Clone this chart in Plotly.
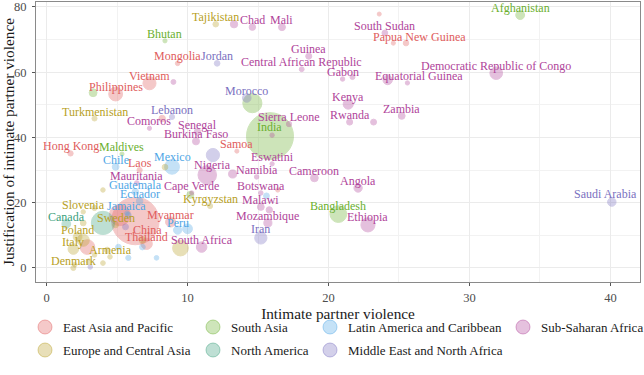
import math
import plotly.graph_objects as go

# ---------------- data ----------------
region_names = [
    "East Asia and Pacific", "South Asia", "Latin America and Caribbean",
    "Sub-Saharan Africa", "Europe and Central Asia", "North America",
    "Middle East and North Africa",
]
region_colors = {
    "East Asia and Pacific": "#e05c5c",
    "South Asia": "#6aaf2e",
    "Latin America and Caribbean": "#4ea6e6",
    "Sub-Saharan Africa": "#b0449a",
    "Europe and Central Asia": "#b89f26",
    "North America": "#3b9f7d",
    "Middle East and North Africa": "#7a70c0",
}
EAP, SA, LAC, SSA, ECA, NA, MENA = region_names[0], region_names[1], region_names[2], region_names[3], region_names[4], region_names[5], region_names[6]

countries = [
    "Tajikistan", "Bhutan", "Mongolia", "Jordan", "Vietnam", "Philippines", "Turkmenistan",
    "Lebanon", "Comoros", "Senegal", "Burkina Faso", "Hong Kong", "Maldives", "Chile",
    "Laos", "Mexico", "Nigeria", "Mauritania", "Guatemala", "Ecuador", "Cape Verde",
    "Kyrgyzstan", "Slovenia", "Jamaica", "Canada", "Sweden", "Myanmar", "China", "Peru",
    "Thailand", "South Africa", "Poland", "Italy", "Armenia", "Denmark", "Chad", "Mali",
    "South Sudan", "Papua New Guinea", "Guinea", "Central African Republic", "Gabon",
    "Equatorial Guinea", "Democratic Republic of Congo", "Afghanistan", "Zambia", "Kenya",
    "Rwanda", "Morocco", "Sierra Leone", "India", "Samoa", "Eswatini", "Namibia",
    "Cameroon", "Angola", "Botswana", "Malawi", "Mozambique", "Iran", "Bangladesh",
    "Ethiopia", "Saudi Arabia",
    # unlabeled
    "Indonesia", "Japan", "Cambodia", "Solomon Islands", "Kiribati", "Timor-Leste",
    "Nepal", "Pakistan", "Sri Lanka", "Colombia", "Haiti", "Dominican Republic",
    "Honduras", "Paraguay", "Uruguay", "Bolivia", "United States", "Egypt", "Tunisia",
    "Algeria", "Russia", "Germany", "Moldova", "Azerbaijan", "Georgia", "Albania",
    "Serbia", "Czechia", "Romania", "Portugal", "Bosnia and Herzegovina", "Switzerland",
    "Uganda", "Congo", "Liberia", "Niger", "Burundi", "Ghana", "Zimbabwe", "Lesotho",
]
regions = [
    ECA, SA, EAP, MENA, EAP, EAP, ECA,
    MENA, SSA, SSA, SSA, EAP, SA, LAC,
    EAP, LAC, SSA, SSA, LAC, LAC, SSA,
    ECA, ECA, LAC, NA, ECA, EAP, EAP, LAC,
    EAP, SSA, ECA, ECA, ECA, ECA, SSA, SSA,
    SSA, EAP, SSA, SSA, SSA,
    SSA, SSA, SA, SSA, SSA,
    SSA, MENA, SSA, SA, EAP, SSA, SSA,
    SSA, SSA, SSA, SSA, SSA, MENA, SA,
    SSA, MENA,
    EAP, EAP, EAP, EAP, EAP, EAP,
    SA, SA, SA, LAC, LAC, LAC,
    LAC, LAC, LAC, LAC, NA, MENA, MENA,
    MENA, ECA, ECA, ECA, ECA, ECA, ECA,
    ECA, ECA, ECA, ECA, ECA, ECA,
    SSA, SSA, SSA, SSA, SSA, SSA, SSA, SSA,
]
ipv = [
    12.0, 8.4, 9.3, 12.1, 7.3, 4.9, 3.4,
    8.9, 7.3, 10.7, 10.6, 1.7, 5.35, 4.9,
    6.6, 8.9, 11.4, 6.4, 6.3, 6.6, 10.3,
    11.6, 2.6, 5.7, 1.4, 4.9, 8.8, 6.3, 9.3,
    7.1, 11.0, 2.2, 1.9, 4.5, 1.9, 14.6, 16.7,
    24.0, 25.5, 18.6, 18.1, 21.0,
    25.6, 31.9, 33.6, 25.2, 21.4,
    21.5, 14.2, 17.2, 15.85, 13.5, 16.0, 14.9,
    19.0, 22.1, 15.2, 15.2, 15.7, 15.2, 20.7,
    22.8, 40.1,
    5.2, 2.9, 8.2, 24.6, 23.6, 16.4,
    3.3, 14.6, 10.2, 10.0, 15.6, 6.8,
    5.1, 5.8, 7.8, 5.8, 4.0, 11.8, 5.6,
    3.1, 9.5, 2.6, 4.0, 8.4, 4.0, 2.0,
    3.4, 2.6, 6.8, 4.3, 3.4, 3.0,
    24.2, 21.7, 9.0, 13.3, 23.2, 13.2, 15.8, 16.0,
]
justification = [
    74.7, 69.6, 62.7, 62.7, 56.6, 53.3, 45.8,
    46.3, 42.8, 41.7, 38.8, 35.1, 34.9, 31.0,
    30.0, 31.0, 28.5, 26.0, 23.3, 20.5, 23.0,
    19.0, 17.2, 16.8, 13.5, 13.2, 14.1, 14.4, 11.6,
    7.4, 6.4, 9.5, 5.8, 3.4, 0.0, 73.8, 73.8,
    72.0, 68.9, 64.9, 60.9, 57.9,
    56.7, 59.7, 77.5, 46.6, 50.2,
    44.7, 52.1, 44.1, 40.4, 35.8, 31.9, 27.9,
    27.6, 24.5, 23.0, 18.7, 13.8, 9.2, 16.5,
    13.2, 20.2,
    16.2, 6.4, 45.8, 68.9, 77.8, 23.9,
    53.7, 50.5, 22.4, 12.0, 22.1, 6.4,
    6.4, 3.1, 3.1, 16.2, 13.8, 34.6, 12.6,
    0.3, 6.1, 8.5, 23.9, 30.9, 1.5, 1.0,
    18.4, 13.8, 8.6, 5.5, 4.0, 2.0,
    57.6, 58.5, 57.0, 74.7, 44.7, 28.8, 17.8, 40.7,
]
population_m = [
    9.5, 0.8, 3.3, 10, 97, 110, 6,
    6.8, 0.9, 17, 21, 7.5, 0.5, 19,
    7.3, 128, 206, 4.6, 17, 17.6, 0.56,
    6.5, 2.1, 3, 38, 10, 54, 1410, 33,
    70, 59, 38, 60, 3, 5.8, 16, 20,
    11, 9, 13, 4.8, 2.2,
    1.4, 90, 39, 18, 54,
    13, 37, 8, 1380, 0.2, 1.2, 2.5,
    27, 33, 2.4, 19, 31, 84, 165,
    115, 35,
    270, 126, 16, 0.7, 0.1, 1.3,
    29, 220, 21, 50, 11, 10,
    10, 7, 3.5, 11, 330, 100, 12,
    3, 145, 83, 2.6, 10, 3.7, 2.8,
    7, 10.7, 19, 10, 3.3, 8.6,
    45, 5.5, 5, 24, 12, 31, 15, 2.1,
]
n_labeled = 63  # the first 63 countries carry a text label

# label nudges in pixels (dx, dy) relative to point; default (0, 7)
label_nudge = {
    "Papua New Guinea": (13, 6), "Equatorial Guinea": (12, 7), "Nigeria": (5, 10),
    "Saudi Arabia": (-6, 8), "Mexico": (0, 10), "India": (0, 9), "China": (12, -9),
    "Iran": (0, 9), "Bangladesh": (0, 8), "Ethiopia": (0, 8),
}

FONT = "Liberation Serif"
ALPHA = 0.33

def marker_diam(p):
    return math.sqrt(16 + 1.589 * p)

def rgba(hex_color, a):
    h = hex_color.lstrip("#")
    r, g, b = int(h[0:2], 16), int(h[2:4], 16), int(h[4:6], 16)
    return f"rgba({r},{g},{b},{a})"

fig = go.Figure()

# bubbles, big first so small ones stay visible
order = sorted(range(len(countries)), key=lambda i: -population_m[i])
for reg in region_names:
    idx = [i for i in order if regions[i] == reg]
    col = region_colors[reg]
    fig.add_trace(go.Scatter(
        x=[ipv[i] for i in idx], y=[justification[i] for i in idx],
        mode="markers", showlegend=False, hovertext=[countries[i] for i in idx],
        name=reg,
        marker=dict(size=[marker_diam(population_m[i]) for i in idx], color=col,
                    opacity=ALPHA, line=dict(color=col, width=1)),
    ))

# point labels
annotations = []
for i in range(n_labeled):
    dx, dy = label_nudge.get(countries[i], (0, 7))
    annotations.append(dict(
        x=ipv[i], y=justification[i], text=countries[i], showarrow=False,
        xanchor="center", yanchor="middle", xshift=dx, yshift=dy,
        font=dict(family=FONT, size=12, color=region_colors[regions[i]]),
    ))

# legend (ggplot-style, two rows below the panel) drawn in paper coordinates
PL, PR, PT, PB = 36, 640, 2, 282          # panel box in pixels
def px_x(px):
    return (px - PL) / (PR - PL)
def px_y(py):
    return (PB - py) / (PB - PT)

legend_layout = [  # (region, key-centre-x px, row)
    ("East Asia and Pacific", 45, 0), ("South Asia", 213, 0),
    ("Latin America and Caribbean", 330, 0), ("Sub-Saharan Africa", 523, 0),
    ("Europe and Central Asia", 45, 1), ("North America", 213, 1),
    ("Middle East and North Africa", 330, 1),
]
row_y = [327, 350]
shapes = []
R = 7
for reg, cx, row in legend_layout:
    cy = row_y[row]
    col = region_colors[reg]
    shapes.append(dict(type="circle", xref="paper", yref="paper",
                       x0=px_x(cx - R), x1=px_x(cx + R), y0=px_y(cy + R), y1=px_y(cy - R),
                       fillcolor=rgba(col, ALPHA), line=dict(color=rgba(col, 0.45), width=1)))
    annotations.append(dict(x=px_x(cx + 16), y=px_y(cy), xref="paper", yref="paper",
                            text=reg, showarrow=False, xanchor="left", yanchor="middle",
                            font=dict(family=FONT, size=13, color="#1a1a1a")))

fig.update_layout(
    width=644, height=375,
    margin=dict(l=PL, r=644 - PR, t=PT, b=375 - PB, autoexpand=False),
    paper_bgcolor="white", plot_bgcolor="white",
    font=dict(family=FONT, color="#1a1a1a"),
    showlegend=False,
    annotations=annotations,
    shapes=shapes,
    xaxis=dict(
        range=[-0.75, 42.1], tick0=0, dtick=10, zeroline=False,
        showgrid=True, gridcolor="#ebebeb", gridwidth=1,
        minor=dict(dtick=5, showgrid=True, gridcolor="#f2f2f2", gridwidth=1),
        showline=True, mirror=True, linecolor="#8a8a8a", linewidth=1,
        ticks="outside", ticklen=3, tickcolor="#555", ticklabelstandoff=1,
        tickfont=dict(family=FONT, size=12.5, color="#4d4d4d"),
        title=dict(text="Intimate partner violence", font=dict(family=FONT, size=15.3, color="#1a1a1a"), standoff=0),
    ),
    yaxis=dict(
        range=[-4.3, 81.5], tick0=0, dtick=20, zeroline=False,
        showgrid=True, gridcolor="#ebebeb", gridwidth=1,
        minor=dict(dtick=10, showgrid=True, gridcolor="#f2f2f2", gridwidth=1),
        showline=True, mirror=True, linecolor="#8a8a8a", linewidth=1,
        ticks="outside", ticklen=3, tickcolor="#555", ticklabelstandoff=3,
        tickfont=dict(family=FONT, size=12.5, color="#4d4d4d"),
        title=dict(text="Justification of intimate partner violence", font=dict(family=FONT, size=15.3, color="#1a1a1a"), standoff=1),
    ),
)

fig.write_html("out.html", config={"displayModeBar": False},
               post_script="document.body.style.margin='0';document.body.style.padding='0';")
